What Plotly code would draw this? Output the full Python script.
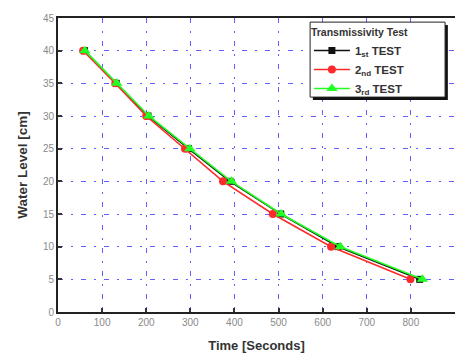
import plotly.graph_objects as go

water_level = [40, 35, 30, 25, 20, 15, 10, 5]
time_test1 = [60, 132, 204, 296, 390, 505, 635, 820]
time_test2 = [57, 130, 200, 288, 374, 487, 619, 799]
time_test3 = [61, 133, 206, 299, 393, 506, 640, 826]
series_names = ["1<sub>st</sub> TEST", "2<sub>nd</sub> TEST", "3<sub>rd</sub> TEST"]

FONT = "Liberation Sans, Arial"

fig = go.Figure()
styles = [
    dict(color="#111111", symbol="square", size=7),
    dict(color="#ff2a2a", symbol="circle", size=8),
    dict(color="#22ff22", symbol="triangle-up", size=10),
]
for t, name, st in zip([time_test1, time_test2, time_test3], series_names, styles):
    fig.add_trace(go.Scatter(
        x=t, y=water_level, mode="lines+markers", name=name,
        line=dict(color=st["color"], width=1.6),
        marker=dict(color=st["color"], symbol=st["symbol"], size=st["size"]),
    ))

axis_common = dict(
    showline=True, linecolor="#222222", linewidth=2, mirror=True,
    ticks="inside", ticklen=4, tickwidth=2, tickcolor="#333333",
    showgrid=True, gridcolor="#6060ff", gridwidth=1, griddash="5px,8px,2px,8px",
    zeroline=False, automargin=False,
    tickfont=dict(family=FONT, size=10, color="#8a8a8a"),
)

fig.update_xaxes(range=[0, 900], dtick=100, **axis_common,
                 title=dict(text="<b>Time [Seconds]</b>", standoff=14,
                            font=dict(family=FONT, size=13, color="#333333")))
fig.update_yaxes(range=[0, 45], dtick=5, **axis_common,
                 title=dict(text="<b>Water Level [cm]</b>", standoff=12,
                            font=dict(family=FONT, size=13.5, color="#333333")))

# legend shadow and box
fig.add_shape(type="rect", xref="paper", yref="paper",
              x0=0.642, x1=0.982, y0=0.721, y1=0.976,
              fillcolor="#111111", line=dict(width=0), layer="above")
fig.add_shape(type="rect", xref="paper", yref="paper",
              x0=0.635, x1=0.975, y0=0.731, y1=0.986,
              fillcolor="white", line=dict(color="#222222", width=1), layer="above")

fig.update_layout(
    width=455, height=346,
    margin=dict(l=50, r=8, t=10, b=42, autoexpand=False),
    plot_bgcolor="white", paper_bgcolor="white",
    legend=dict(
        x=0.632, y=0.985, xanchor="left", yanchor="top",
        bgcolor="rgba(0,0,0,0)", borderwidth=0,
        title=dict(text="<b>Transmissivity Test</b>",
                   font=dict(family=FONT, size=10.5, color="#333333")),
        font=dict(family=FONT, size=11.5, color="#333333", weight="bold"),
        tracegroupgap=0, itemwidth=36,
    ),
)

fig.write_html("out.html")
